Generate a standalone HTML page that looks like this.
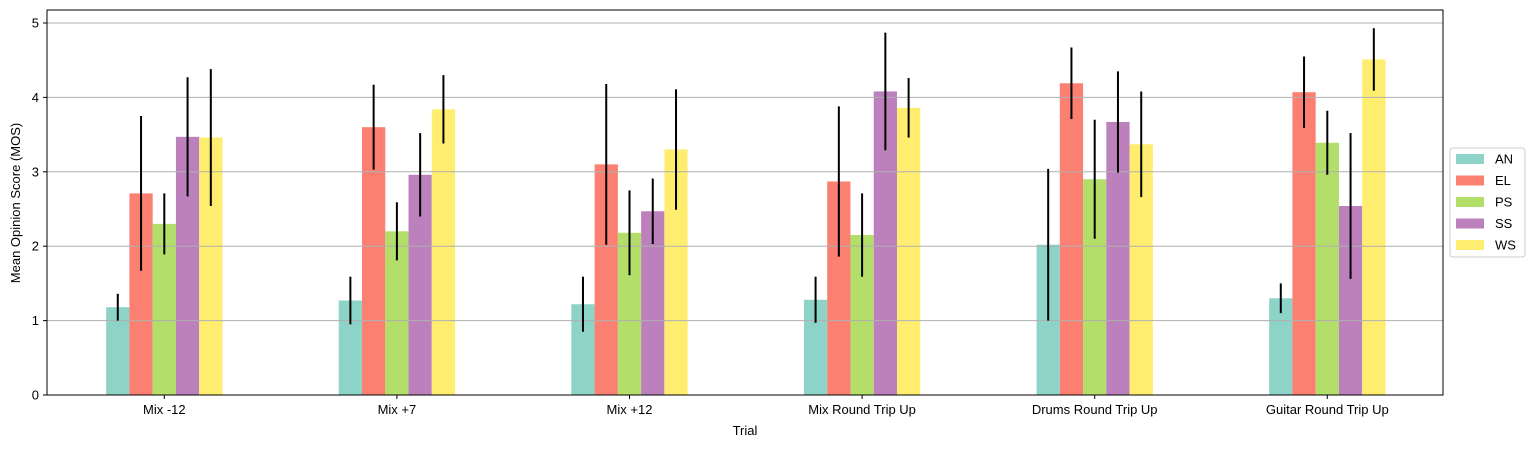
<!DOCTYPE html>
<html><head><meta charset="utf-8"><style>
body{margin:0;background:#fff;font-family:"Liberation Sans",sans-serif;}
svg text{font-family:"Liberation Sans",sans-serif;font-size:13px;fill:#000;}
</style></head><body>
<svg width="1532" height="448" xmlns="http://www.w3.org/2000/svg" id="chart">
<g id="bars"></g><g id="grid"></g><g id="errs"></g>
<rect x="47" y="10" width="1396" height="385" fill="none" stroke="#000" stroke-width="1"/>
<g id="axes"></g>
<text x="745" y="435" text-anchor="middle">Trial</text>
<text transform="translate(20,203) rotate(-90)" text-anchor="middle">Mean Opinion Score (MOS)</text>
<g id="legend"></g>
</svg>
<script>
const categories=["Mix -12","Mix +7","Mix +12","Mix Round Trip Up","Drums Round Trip Up","Guitar Round Trip Up"];
const seriesNames=["AN","EL","PS","SS","WS"];
const AN=[1.18,1.27,1.22,1.28,2.02,1.30];
const EL=[2.71,3.60,3.10,2.87,4.19,4.07];
const PS=[2.30,2.20,2.18,2.15,2.90,3.39];
const SS=[3.47,2.96,2.47,4.08,3.67,2.54];
const WS=[3.46,3.84,3.30,3.86,3.37,4.51];
const AN_err=[0.18,0.32,0.37,0.31,1.02,0.20];
const EL_err=[1.04,0.57,1.08,1.01,0.48,0.48];
const PS_err=[0.41,0.39,0.57,0.56,0.80,0.43];
const SS_err=[0.80,0.56,0.44,0.79,0.68,0.98];
const WS_err=[0.92,0.46,0.81,0.40,0.71,0.42];
const yTicks=[0,1,2,3,4,5];
const colors=["#8dd3c7","#fb8072","#b3de69","#bc80bd","#ffed6f"];
const series=[AN,EL,PS,SS,WS], errs=[AN_err,EL_err,PS_err,SS_err,WS_err];
const NS="http://www.w3.org/2000/svg";
const y=v=>395-v*74.4;
const gx=i=>164.3+i*232.6;
const bw=23.26;
function mk(t,a,p){const e=document.createElementNS(NS,t);for(const k in a)e.setAttribute(k,a[k]);p.appendChild(e);return e;}
const G=document.getElementById('grid'),B=document.getElementById('bars'),E=document.getElementById('errs'),A=document.getElementById('axes'),L=document.getElementById('legend');
yTicks.forEach(t=>{
 const l=mk('line',{x1:47,x2:1443,y1:y(t),y2:y(t),stroke:'#b0b0b0','stroke-width':1},G);
 
 
 mk('line',{x1:43,x2:47,y1:y(t),y2:y(t),stroke:'#000'},A);
 const tx=mk('text',{x:39,y:y(t)+4.5,'text-anchor':'end'},A);tx.textContent=t;
 
 
});
categories.forEach((c,i)=>{
 mk('line',{x1:gx(i),x2:gx(i),y1:395,y2:399,stroke:'#000'},A);
 const tx=mk('text',{x:gx(i),y:414,'text-anchor':'middle'},A);tx.textContent=c;
 
 
 series.forEach((s,j)=>{
  const cx=gx(i)+(j-2)*bw;
  const r=mk('rect',{x:cx-bw/2,y:y(s[i]),width:bw,height:y(0)-y(s[i]),fill:colors[j]},B);
  
  
  const e=mk('line',{x1:cx,x2:cx,y1:y(s[i]-errs[j][i]),y2:y(s[i]+errs[j][i]),stroke:'#000','stroke-width':2},E);
  
  
 });
});
const box=mk('rect',{x:1450,y:148,width:75,height:109,fill:'#fff',stroke:'#ccc',rx:3},L);


seriesNames.forEach((n,j)=>{
 const yy=159+j*21.5;
 const r=mk('rect',{x:1456,y:yy-5,width:28,height:10,fill:colors[j]},L);
 
 
 const t=mk('text',{x:1495,y:yy+4.5},L);t.textContent=n;
 
 
});
</script>
</body></html>
